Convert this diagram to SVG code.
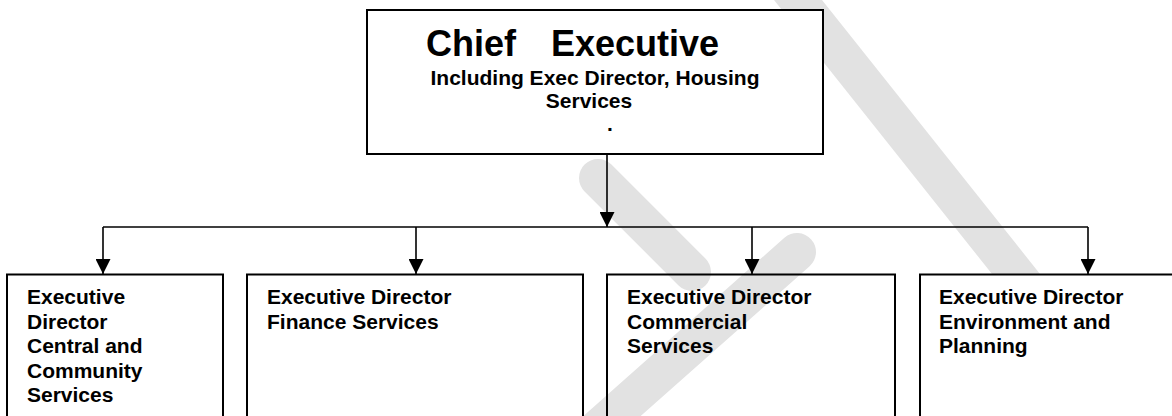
<svg xmlns="http://www.w3.org/2000/svg" width="1172" height="416" viewBox="0 0 1172 416">
  <style>
    .box { fill: none; stroke: #000; stroke-width: 2; }
    .top { fill: #fff; stroke: #000; stroke-width: 2; }
    .lbl { font-family: "Liberation Sans", Arial, sans-serif; font-weight: bold; font-size: 21px; fill: #000; }
    .title { font-family: "Liberation Sans", Arial, sans-serif; font-weight: bold; font-size: 36px; fill: #000; }
    .wire { fill: none; stroke: #000; stroke-width: 1.6; }
    .mark { fill: none; stroke: #e2e2e2; stroke-width: 38; }
  </style>
  <defs>
    <marker id="arrow" markerUnits="userSpaceOnUse" markerWidth="15" markerHeight="15" refX="15" refY="7.5" orient="auto">
      <path d="M0,0 L15,7.5 L0,15 z" fill="#000"/>
    </marker>
  </defs>

  <rect width="1172" height="416" fill="#fff"/>

  <!-- faint background watermark strokes -->
  <g id="watermark">
    <path class="mark" d="M598,178 L692,272" stroke-linecap="round"/>
    <path class="mark" d="M797,252 L585,440" stroke-linecap="round"/>
    <polygon points="774,0 822,0 1040,274 992,274" fill="#e2e2e2"/>
  </g>

  <!-- connectors -->
  <g id="connectors">
    <line class="wire" x1="607" y1="154" x2="607" y2="227" marker-end="url(#arrow)"/>
    <line class="wire" x1="103" y1="227" x2="1088" y2="227"/>
    <line class="wire" x1="103" y1="227" x2="103" y2="274" marker-end="url(#arrow)"/>
    <line class="wire" x1="416" y1="227" x2="416" y2="274" marker-end="url(#arrow)"/>
    <line class="wire" x1="752" y1="227" x2="752" y2="274" marker-end="url(#arrow)"/>
    <line class="wire" x1="1088" y1="227" x2="1088" y2="274" marker-end="url(#arrow)"/>
  </g>

  <g id="chief-executive">
    <rect class="top" x="367" y="10" width="456" height="144"/>
    <text class="title" y="56"><tspan x="426">Chief</tspan><tspan x="551">Executive</tspan></text>
    <text class="lbl" x="595" y="85" text-anchor="middle">Including Exec Director, Housing</text>
    <text class="lbl" x="589" y="108" text-anchor="middle">Services</text>
    <text class="lbl" x="607" y="131" font-size="10">.</text>
  </g>

  <g id="central-community">
    <rect class="box" x="7" y="274.5" width="216" height="160"/>
    <text class="lbl" x="27" y="304">Executive</text>
    <text class="lbl" x="27" y="328.5">Director</text>
    <text class="lbl" x="27" y="353">Central and</text>
    <text class="lbl" x="27" y="377.5">Community</text>
    <text class="lbl" x="27" y="402">Services</text>
  </g>

  <g id="finance">
    <rect class="box" x="247" y="274.5" width="336" height="160"/>
    <text class="lbl" x="267" y="304">Executive Director</text>
    <text class="lbl" x="267" y="328.5">Finance Services</text>
  </g>

  <g id="commercial">
    <rect class="box" x="607" y="274.5" width="288" height="160"/>
    <text class="lbl" x="627" y="304">Executive Director</text>
    <text class="lbl" x="627" y="328.5">Commercial</text>
    <text class="lbl" x="627" y="353">Services</text>
  </g>

  <g id="environment-planning">
    <rect class="box" x="920" y="274.5" width="270" height="160"/>
    <text class="lbl" x="939" y="304">Executive Director</text>
    <text class="lbl" x="939" y="328.5">Environment and</text>
    <text class="lbl" x="939" y="353">Planning</text>
  </g>
</svg>
